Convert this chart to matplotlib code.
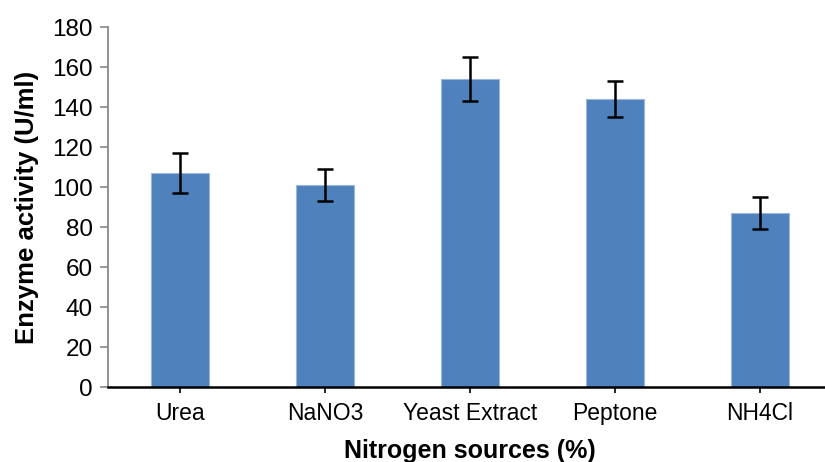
import matplotlib
matplotlib.use("Agg")
import matplotlib.pyplot as plt
import numpy as np

# values
sources = ["Urea", "NaNO3", "Yeast Extract", "Peptone", "NH4Cl"]
activity = [107, 101, 154, 144, 87]
errors = [10, 8, 11, 9, 8]

plt.rcParams['font.family'] = ['Liberation Sans', 'DejaVu Sans']

fig = plt.figure(figsize=(8.25, 4.62), dpi=100)
ax = fig.add_axes([0.1309, 0.1623, 0.8776, 0.7792])

x = np.arange(len(sources))
ax.bar(x, activity, width=0.4, color="#4F81BD", edgecolor="#9DB7DC", linewidth=0.8, zorder=2)
ax.errorbar(x, activity, yerr=errors, fmt="none", ecolor="black", elinewidth=1.8,
            capsize=5.5, capthick=1.8, zorder=3)

ax.set_xlim(-0.5, len(sources) - 0.5)
ax.set_ylim(0, 180)
ax.set_yticks(range(0, 181, 20))
ax.set_xticks(x)
ax.set_xticklabels(sources, fontsize=16.5)
ax.tick_params(axis="y", labelsize=17.5, length=6, width=1.2, color="#888888", pad=5)
ax.tick_params(axis="x", length=4, width=1.2, color="black", pad=7)

for side in ["top", "right"]:
    ax.spines[side].set_visible(False)
ax.spines["left"].set_color("#888888")
ax.spines["left"].set_linewidth(1.3)
ax.spines["bottom"].set_color("black")
ax.spines["bottom"].set_linewidth(1.8)

ax.set_ylabel("Enzyme activity (U/ml)", fontsize=18.5, fontweight="bold", labelpad=9)
ax.set_xlabel("Nitrogen sources (%)", fontsize=18, fontweight="bold", labelpad=10)

fig.savefig("out.png", dpi=100)
